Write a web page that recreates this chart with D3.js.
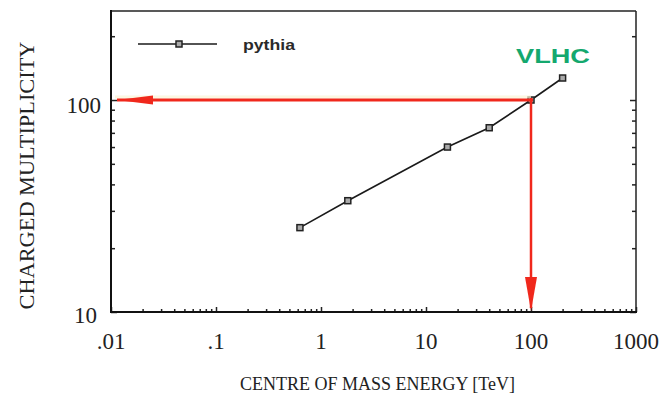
<!DOCTYPE html>
<html>
<head>
<meta charset="utf-8">
<script src="https://cdn.jsdelivr.net/npm/d3@7"></script>
<style>
  html, body { margin: 0; padding: 0; background: #fff; }
  svg { display: block; }
</style>
</head>
<body>
<svg id="chart" width="665" height="399"></svg>
<script>
// ---- data ----
const energy = [0.63, 1.8, 16, 40, 100, 200];           // TeV
const multiplicity = [25, 33.5, 60, 74, 100, 127];
const seriesName = "pythia";
const xTickValues = [0.01, 0.1, 1, 10, 100, 1000];
const xTickLabels = [".01", ".1", "1", "10", "100", "1000"];
const yTickValues = [10, 100];
const yTickLabels = ["10", "100"];
const vlhcEnergy = [100];
const vlhcMultiplicity = [100];
const vlhcLabel = "VLHC";
const xTitle = "CENTRE OF MASS ENERGY [TeV]";
const yTitle = "CHARGED MULTIPLICITY";

// ---- layout ----
const svg = d3.select("#chart");
const pL = 111, pR = 636, pT = 11, pB = 312;
const x = d3.scaleLog().domain([0.01, 1000]).range([pL, pR]);
const y = d3.scaleLog().domain([10, 263]).range([pB, pT]);

const serif = "'Liberation Serif', 'DejaVu Serif', serif";
const sans = "'Liberation Sans', Arial, sans-serif";

// minor tick values
const xMinor = [];
for (let d = -2; d < 3; d++) for (let m = 2; m <= 9; m++) xMinor.push(m * Math.pow(10, d));
const yMinor = [];
for (let d = 1; d < 3; d++) for (let m = 2; m <= 9; m++) { const v = m * Math.pow(10, d); if (v <= 263) yMinor.push(v); }

function styleAxis(g) {
  g.select(".domain").remove();
  g.selectAll("line").attr("stroke", "#222").attr("stroke-width", 1.5);
  g.selectAll("text").remove();
}

// bottom ticks (inward)
svg.append("g").attr("transform", `translate(0,${pB})`)
  .call(d3.axisBottom(x).tickValues(xMinor).tickSize(-3).tickFormat(""))
  .call(styleAxis);
svg.append("g").attr("transform", `translate(0,${pB})`)
  .call(d3.axisBottom(x).tickValues(xTickValues).tickSize(-5).tickFormat(""))
  .call(styleAxis);
// left ticks (inward)
svg.append("g").attr("transform", `translate(${pL},0)`)
  .call(d3.axisLeft(y).tickValues(yMinor).tickSize(-4).tickFormat(""))
  .call(styleAxis);
svg.append("g").attr("transform", `translate(${pL},0)`)
  .call(d3.axisLeft(y).tickValues(yTickValues).tickSize(-6).tickFormat(""))
  .call(styleAxis);
// right ticks (inward)
svg.append("g").attr("transform", `translate(${pR},0)`)
  .call(d3.axisRight(y).tickValues(yMinor).tickSize(-4).tickFormat(""))
  .call(styleAxis);
svg.append("g").attr("transform", `translate(${pR},0)`)
  .call(d3.axisRight(y).tickValues(yTickValues).tickSize(-6).tickFormat(""))
  .call(styleAxis);

// frame
svg.append("line").attr("x1", pL).attr("x2", pR).attr("y1", pT).attr("y2", pT)
  .attr("stroke", "#222").attr("stroke-width", 1.5);
svg.append("line").attr("x1", pR).attr("x2", pR).attr("y1", pT).attr("y2", pB)
  .attr("stroke", "#222").attr("stroke-width", 1.5);
svg.append("line").attr("x1", pL).attr("x2", pL).attr("y1", pT - 1).attr("y2", pB + 1)
  .attr("stroke", "#111").attr("stroke-width", 2);
svg.append("line").attr("x1", pL - 1).attr("x2", pR + 1).attr("y1", pB).attr("y2", pB)
  .attr("stroke", "#111").attr("stroke-width", 2);

// tick labels
svg.append("g").selectAll("text").data(xTickValues).join("text")
  .attr("x", d => x(d)).attr("y", pB + 37)
  .attr("text-anchor", "middle")
  .attr("font-family", serif).attr("font-size", 23).attr("fill", "#222")
  .text((d, i) => xTickLabels[i]);
svg.append("g").selectAll("text").data(yTickValues).join("text")
  .attr("x", (d, i) => pL - (i === 0 ? 14 : 10))
  .attr("y", d => y(d) + (d === 10 ? 11 : 13))
  .attr("text-anchor", "end")
  .attr("font-family", serif).attr("font-size", 23).attr("fill", "#222")
  .text((d, i) => yTickLabels[i]);

// axis titles
svg.append("text").attr("x", (pL + pR) / 2 + 4).attr("y", 390)
  .attr("text-anchor", "middle").attr("font-family", serif).attr("font-size", 18)
  .attr("fill", "#222").text(xTitle);
svg.append("text")
  .attr("transform", `translate(34,${(pT + pB) / 2 + 14}) rotate(-90)`)
  .attr("text-anchor", "middle").attr("font-family", serif).attr("font-size", 20)
  .attr("fill", "#222").attr("textLength", 268).attr("lengthAdjust", "spacingAndGlyphs")
  .text(yTitle);

// series line
const pts = energy.map((e, i) => [e, multiplicity[i]]);
const line = d3.line().x(d => x(d[0])).y(d => y(d[1]));
svg.append("path").datum(pts).attr("d", line)
  .attr("fill", "none").attr("stroke", "#1a1a1a").attr("stroke-width", 1.6);

// markers
svg.append("g").selectAll("rect").data(pts).join("rect")
  .attr("x", d => x(d[0]) - 3).attr("y", d => y(d[1]) - 3)
  .attr("width", 6).attr("height", 6)
  .attr("fill", "#aaa").attr("stroke", "#222").attr("stroke-width", 1.5);

// legend
const legY = 44;
svg.append("line").attr("x1", 138).attr("x2", 217).attr("y1", legY).attr("y2", legY)
  .attr("stroke", "#1a1a1a").attr("stroke-width", 1.4);
svg.append("rect").attr("x", 179 - 3).attr("y", legY - 3).attr("width", 6).attr("height", 6)
  .attr("fill", "#aaa").attr("stroke", "#222").attr("stroke-width", 1.5);
svg.append("text").attr("x", 243).attr("y", legY + 6)
  .attr("font-family", sans).attr("font-weight", "bold").attr("font-size", 15)
  .attr("fill", "#2a2a2a").attr("textLength", 52).attr("lengthAdjust", "spacingAndGlyphs")
  .text(seriesName);

// red guide lines
const red = "#f0281c";
const vx = x(vlhcEnergy[0]), vy = y(vlhcMultiplicity[0]);
svg.append("line").attr("x1", pL + 4).attr("x2", vx).attr("y1", vy - 3).attr("y2", vy - 3)
  .attr("stroke", "#fcf4d6").attr("stroke-width", 3).attr("opacity", 0.7);
svg.append("line").attr("x1", pL + 6).attr("x2", vx + 2).attr("y1", vy).attr("y2", vy)
  .attr("stroke", red).attr("stroke-width", 3);
svg.append("line").attr("x1", vx).attr("x2", vx).attr("y1", vy - 2).attr("y2", pB - 4)
  .attr("stroke", red).attr("stroke-width", 2.5);
// arrowheads
svg.append("path")
  .attr("d", `M${pL + 6},${vy} L${pL + 42},${vy - 4.5} L${pL + 42},${vy + 4.5} Z`)
  .attr("fill", red);
svg.append("path")
  .attr("d", `M${vx},${pB - 1} L${vx - 6},${pB - 35} L${vx + 6},${pB - 35} Z`)
  .attr("fill", red);

// VLHC label
svg.append("text").attr("x", vx - 15).attr("y", 63)
  .attr("font-family", sans).attr("font-weight", "bold").attr("font-size", 20)
  .attr("fill", "#14a86e").attr("textLength", 74).attr("lengthAdjust", "spacingAndGlyphs")
  .text(vlhcLabel);
</script>
</body>
</html>
